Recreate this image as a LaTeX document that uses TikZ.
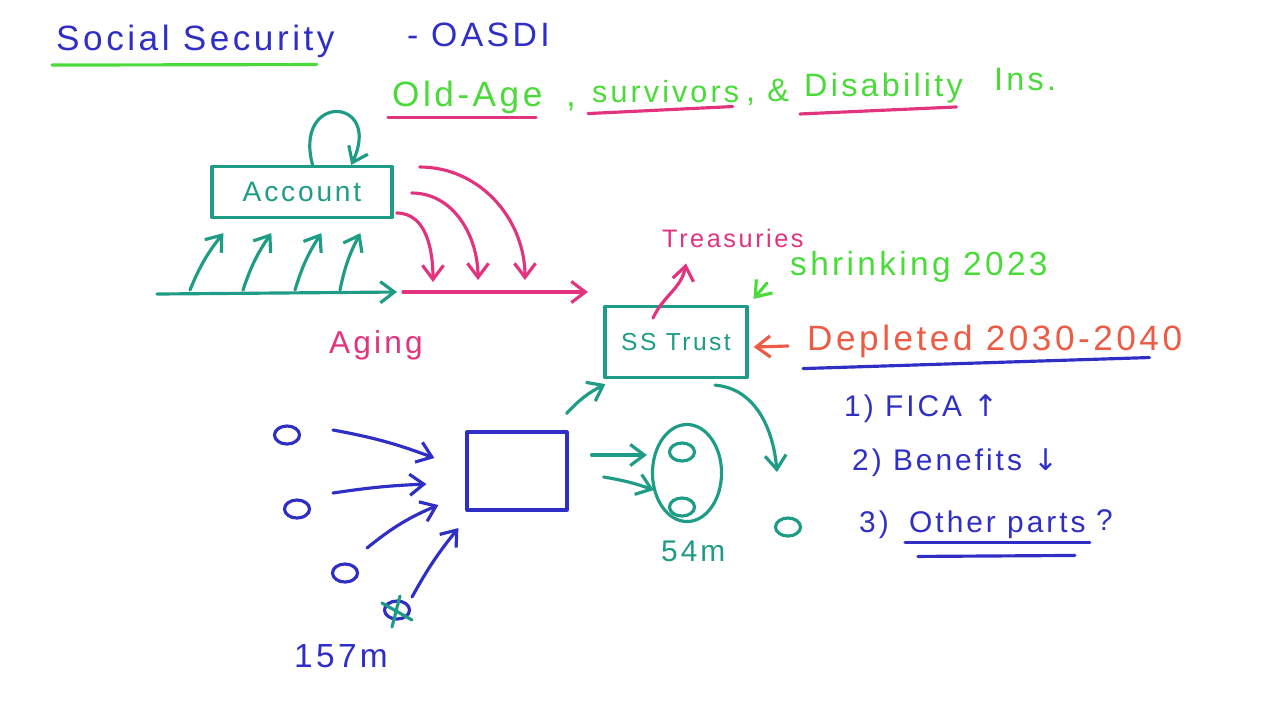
\documentclass[tikz,border=0pt]{standalone}
\usepackage{fontspec}
\setmainfont{Liberation Sans}
\newfontfamily\handfont[LetterSpace=10]{Liberation Sans}
\newfontfamily\symfont{DejaVu Sans}
\usetikzlibrary{arrows.meta, positioning, shapes.geometric}
\definecolor{inkblue}{HTML}{2F2FC6}
\definecolor{inkgreen}{HTML}{4ADB3A}
\definecolor{inkpink}{HTML}{E2337F}
\definecolor{inkteal}{HTML}{1F9C85}
\definecolor{inkred}{HTML}{EC5B45}

\begin{document}
\begin{tikzpicture}[
    x=0.01cm, y=-0.01cm,
    pen/.style={line width=0.9pt, line cap=round, line join=round},
    arrow/.style={pen, -{Straight Barb[length=4pt, width=6pt]}},
    hand/.style={inner sep=1pt, anchor=base west, font=\handfont\fontsize{#1}{12}\selectfont},
    hand/.default=9,
    box/.style={draw, pen, inner sep=0pt},
    person/.style={draw, pen, ellipse, inner sep=0pt,
      minimum width=0.25cm, minimum height=0.18cm}
]
\useasboundingbox (0,0) rectangle (1280,720);

% --- Title ---
\node[hand=10, inkblue] (social) at (52,50) {Social Security};
\node[hand=9.6, inkblue] (oasdi) at (403,46) {- OASDI};
\draw[pen, inkgreen] ([yshift=-1]social.south west) -- ([shift={(-22,3)}]social.south east);

\node[hand=10, inkgreen] (oldage) at (388,106) {Old-Age};
\node[hand=10, inkgreen] (comma) at (562,106) {,};
\node[hand=8.7, inkgreen] (surv) at (588,102) {survivors};
\node[hand=9.2, inkgreen] (amp) at (742,101) {, \&};
\node[hand=9.2, inkgreen] (disab) at (800,96) {Disability};
\node[hand=9.2, inkgreen] (ins) at (990,90) {Ins.};
\draw[pen, inkpink] (oldage.south west) -- ([xshift=-3]oldage.south east);
\draw[pen, inkpink] ([yshift=-2]surv.south west) -- ([xshift=-3]surv.south east);
\draw[pen, inkpink] ([yshift=-2]disab.south west) -- ([xshift=-3]disab.south east);

% --- Account and aging ---
\node[box, inkteal, minimum width=1.8cm, minimum height=0.51cm,
  font=\handfont\fontsize{8}{10}\selectfont] (account) at (302,192) {Account};
\draw[arrow, inkteal] ([xshift=3]account.north) to[out=105, in=65, looseness=5] ([xshift=14]account.north);

\coordinate (base0) at (157,294);
\coordinate (base1) at (397,292);
\draw[arrow, inkteal] (base0) -- (base1);
\foreach \s/\e in {33/13, 86/61, 138/111, 183/150}
  \draw[arrow, inkteal] ([shift={(\s,-4)}]base0) to[bend left=8] ([shift={(\e,14)}]account.south west);

\coordinate (pink0) at (403,292);
\coordinate (pink1) at (588,292);
\draw[arrow, inkpink] (pink0) -- (pink1);
\draw[arrow, inkpink] ([shift={(3,21)}]account.east) to[out=0, in=90] ([shift={(30,-10)}]pink0);
\draw[arrow, inkpink] ([shift={(18,1)}]account.east) to[out=0, in=90] ([shift={(75,-12)}]pink0);
\draw[arrow, inkpink] ([shift={(26,-25)}]account.east) to[out=0, in=90] ([shift={(122,-12)}]pink0);

\node[hand=9, inkpink] (aging) at (325,353) {Aging};

% --- Trust fund ---
\node[box, inkteal, minimum width=1.42cm, minimum height=0.71cm,
  font=\handfont\fontsize{7}{9}\selectfont] (trust) at (676,342) {SS Trust};
\node[hand=7.2, inkpink] (treas) at (658,247) {Treasuries};
\draw[arrow, inkpink] ([shift={(-23,-24)}]trust.center) to[out=65, in=-100] ([shift={(28,12)}]treas.south west);

\node[hand=9.5, inkgreen] (shrink) at (786,275) {shrinking 2023};
\draw[arrow, inkgreen] (767,283) -- ([shift={(5,-6)}]trust.north east);

\node[hand=10, inkred] (depl) at (803,350) {Depleted 2030-2040};
\draw[arrow, inkred] ([shift={(-15,-4)}]depl.base west) -- ([shift={(5,5)}]trust.east);
\draw[pen, inkblue] ([yshift=-2]depl.south west) -- ([shift={(-37,-4)}]depl.south east);

% --- Workers and retirees ---
\node[box, inkblue, minimum width=1.0cm, minimum height=0.78cm] (pool) at (517,471) {};

\node[person, inkblue] (w1) at (287,435) {};
\node[person, inkblue] (w2) at (297,509) {};
\node[person, inkblue] (w3) at (345,573) {};
\node[person, inkblue] (w4) at (397,610) {};
\draw[pen, inkteal] ([shift={(-15,-7)}]w4.center) -- ([shift={(15,10)}]w4.center);
\draw[pen, inkteal] ([shift={(3,-14)}]w4.center) -- ([shift={(-5,17)}]w4.center);
\node[hand=9.5, inkblue] (workers) at (290,667) {157m};

\draw[arrow, inkblue] ([shift={(46,-5)}]w1.center) to[bend left=5] ([shift={(-31,-13)}]pool.west);
\draw[arrow, inkblue] ([shift={(36,-16)}]w2.center) to[bend left=3] ([shift={(-39,13)}]pool.west);
\draw[arrow, inkblue] ([shift={(22,-25)}]w3.center) to[bend left=8] ([shift={(-27,34)}]pool.west);
\draw[arrow, inkblue] ([shift={(15,-13)}]w4.center) to[bend left=5] ([shift={(-7,57)}]pool.west);

\draw[arrow, inkteal] ([shift={(-2,-17)}]pool.north east) to[bend left=10] ([shift={(2,5)}]trust.south west);

\node[draw, pen, inkteal, ellipse, minimum width=0.69cm, minimum height=0.97cm] (retired) at (687,473) {};
\node[person, inkteal] (r1) at (682,452) {};
\node[person, inkteal] (r2) at (682,507) {};
\node[hand=8.5, inkteal] (retirees) at (657,561) {54m};
\draw[arrow, inkteal] ([shift={(23,-16)}]pool.east) -- ([shift={(-4,-18)}]retired.west);
\draw[arrow, inkteal] ([shift={(35,6)}]pool.east) to[bend left=5] ([shift={(3,17)}]retired.west);

\node[person, inkteal] (r3) at (788,527) {};
\draw[arrow, inkteal] ([shift={(39,6)}]trust.south) to[out=-5, in=95] ([shift={(-11,-55)}]r3.center);

% --- Fixes ---
\node[hand=8.5, inkblue] (fix1) at (840,416) {1) FICA {\symfont ↑}};
\node[hand=8.5, inkblue] (fix2) at (848,470) {2) Benefits {\symfont ↓}};
\node[hand=8.5, inkblue] (num3) at (855,532) {3)};
\node[hand=8.5, inkblue] (other) at (905,532) {Other parts};
\node[hand=8.5, inkblue] (quest) at (1092,530) {?};
\draw[pen, inkblue] (other.south west) -- (other.south east);
\draw[pen, inkblue] ([shift={(13,14)}]other.south west) -- ([shift={(-15,13)}]other.south east);

\end{tikzpicture}
\end{document}
